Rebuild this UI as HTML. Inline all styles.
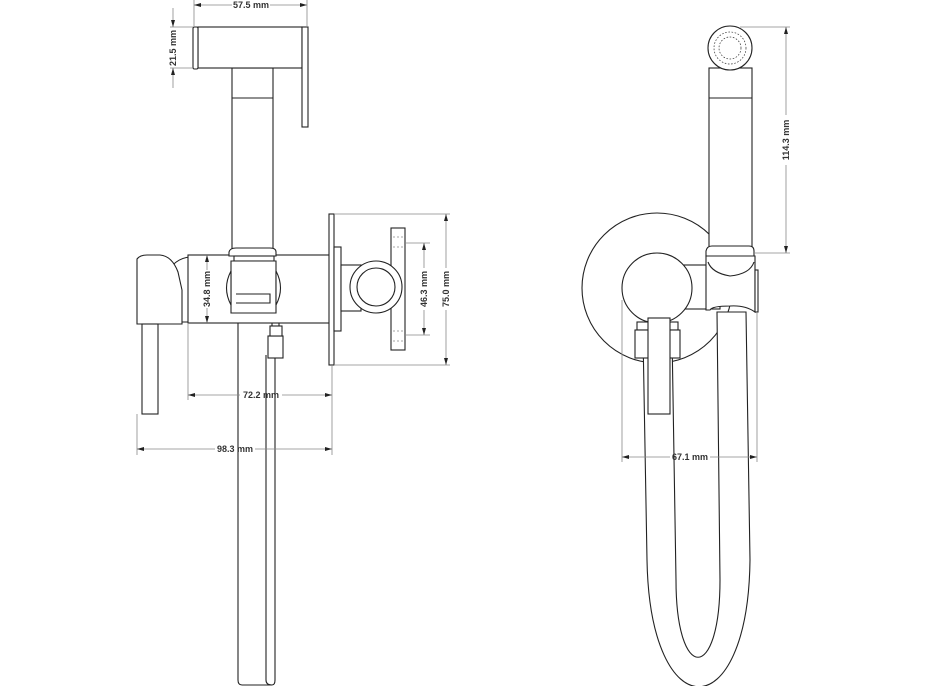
<!DOCTYPE html>
<html><head><meta charset="utf-8"><style>
html,body{margin:0;padding:0;background:#fff;}
svg{display:block;}
text{font-family:"Liberation Sans",sans-serif;font-size:9px;font-weight:bold;fill:#333;}
.l{fill:none;stroke:#222;stroke-width:1.1;}
.w{fill:#fff;stroke:#222;stroke-width:1.1;}
.d{fill:none;stroke:#888;stroke-width:0.8;}
.a{fill:#222;}
</style></head><body>
<svg width="928" height="686" viewBox="0 0 928 686" xmlns="http://www.w3.org/2000/svg">
<!-- LEFT VIEW -->
<path class="l" d="M238,320 L238,680 Q238,685 242,685 L272,685 Q275,685 275,680 L275,355"/>
<path class="l" d="M266,355 L266,680 Q266,685 272,685"/>
<rect class="w" x="268" y="336" width="15" height="22"/>
<rect class="w" x="270" y="326" width="12" height="10"/>
<line class="l" x1="272" y1="322" x2="272" y2="326"/><line class="l" x1="279" y1="322" x2="279" y2="326"/>
<path class="w" d="M165,275 Q175,258 190,257 L190,322 L182,322 Z"/>
<path class="w" d="M137,324 L137,259 Q140,255 147,255 L160,255 Q172,256 178,272 L182,290 L182,324 Z"/>
<rect class="w" x="142" y="324" width="16" height="90"/>
<rect class="w" x="188" y="255" width="142" height="68"/>
<rect class="w" x="232" y="68" width="41" height="182"/>
<line class="l" x1="232" y1="98" x2="273" y2="98"/>
<path class="w" d="M229,256 L229,252 Q230,248 236,248 L270,248 Q276,248 276,252 L276,256 Z"/>
<rect class="w" x="234" y="256" width="40" height="5"/>
<path class="w" d="M231,261 L276,261 L276,313 L231,313 Z"/>
<path class="w" d="M231,271 Q222,288 231,305 Z"/>
<path class="w" d="M276,271 Q285,288 276,305 Z"/>
<path class="l" d="M236,294 L270,294 L270,303 L236,303"/>
<rect class="w" x="198" y="27" width="104" height="41"/>
<rect class="w" x="193" y="27" width="5" height="42" rx="1.5"/>
<rect class="w" x="302" y="27" width="6" height="100"/>
<rect class="w" x="329" y="214" width="5" height="151"/>
<rect class="w" x="334" y="247" width="7" height="84"/>
<rect class="w" x="341" y="265" width="20" height="46"/>
<rect class="w" x="391" y="228" width="14" height="122"/>
<circle class="w" cx="376" cy="287" r="26"/>
<circle class="w" cx="376" cy="287" r="19"/>
<g class="d" stroke-dasharray="2,2"><line x1="393" y1="237" x2="404" y2="237"/><line x1="393" y1="247" x2="404" y2="247"/><line x1="393" y1="331" x2="404" y2="331"/><line x1="393" y1="341" x2="404" y2="341"/></g>
<g class="d">
<line x1="194" y1="0" x2="194" y2="27"/><line x1="307" y1="0" x2="307" y2="27"/>
<line x1="194" y1="5" x2="232" y2="5"/><line x1="270" y1="5" x2="307" y2="5"/>
<line x1="170" y1="27" x2="193" y2="27"/><line x1="170" y1="68" x2="193" y2="68"/>
<line x1="173" y1="8" x2="173" y2="27"/><line x1="173" y1="68" x2="173" y2="88"/>
<line x1="207" y1="255" x2="207" y2="270"/><line x1="207" y1="308" x2="207" y2="323"/>
<line x1="405" y1="243" x2="430" y2="243"/><line x1="405" y1="335" x2="430" y2="335"/>
<line x1="424" y1="243" x2="424" y2="268"/><line x1="424" y1="310" x2="424" y2="335"/>
<line x1="335" y1="214" x2="450" y2="214"/><line x1="335" y1="365" x2="450" y2="365"/>
<line x1="446" y1="214" x2="446" y2="268"/><line x1="446" y1="310" x2="446" y2="365"/>
<line x1="188" y1="323" x2="188" y2="400"/><line x1="332" y1="365" x2="332" y2="455"/>
<line x1="188" y1="395" x2="240" y2="395"/><line x1="282" y1="395" x2="332" y2="395"/>
<line x1="137" y1="414" x2="137" y2="455"/>
<line x1="137" y1="449" x2="215" y2="449"/><line x1="255" y1="449" x2="332" y2="449"/>
</g>
<g class="a">
<path d="M194,5 l7,-2 v4z"/><path d="M307,5 l-7,-2 v4z"/>
<path d="M173,27 l-2,-7 h4z"/><path d="M173,68 l-2,7 h4z"/>
<path d="M207,255 l-2,7 h4z"/><path d="M207,323 l-2,-7 h4z"/>
<path d="M424,243 l-2,7 h4z"/><path d="M424,335 l-2,-7 h4z"/>
<path d="M446,214 l-2,7 h4z"/><path d="M446,365 l-2,-7 h4z"/>
<path d="M188,395 l7,-2 v4z"/><path d="M332,395 l-7,-2 v4z"/>
<path d="M137,449 l7,-2 v4z"/><path d="M332,449 l-7,-2 v4z"/>
</g>
<text x="251" y="8" text-anchor="middle">57.5 mm</text>
<text transform="translate(176,48) rotate(-90)" text-anchor="middle">21.5 mm</text>
<text transform="translate(210,289) rotate(-90)" text-anchor="middle">34.8 mm</text>
<text transform="translate(427,289) rotate(-90)" text-anchor="middle">46.3 mm</text>
<text transform="translate(449,289) rotate(-90)" text-anchor="middle">75.0 mm</text>
<text x="261" y="398" text-anchor="middle">72.2 mm</text>
<text x="235" y="452" text-anchor="middle">98.3 mm</text>

<!-- RIGHT VIEW -->
<circle class="w" cx="657" cy="288" r="75"/>
<path class="w" d="M643,335 L647,560 C650,729 748,729 750,560 L746,312 L717,312 L720,580 C720,683 676,683 676,580 L672,335 Z"/>
<rect class="w" x="680" y="265" width="40" height="44"/>
<path class="w" d="M706,256 L755,256 L755,312 Q745,305 730,306 Q712,306 710,310 L706,310 Z"/>
<path class="w" d="M708,262 Q712,273 730,276 Q750,274 754,262"/>
<rect class="w" x="755" y="270" width="3" height="42"/>
<rect class="w" x="709" y="68" width="43" height="180"/>
<line class="l" x1="709" y1="98" x2="752" y2="98"/>
<path class="w" d="M706,256 L706,251 Q707,246 712,246 L749,246 Q754,246 754,251 L754,256 Z"/>
<circle class="w" cx="730" cy="48" r="22"/>
<g fill="none" stroke="#333" stroke-width="0.7">
<circle cx="730" cy="48" r="16" stroke-dasharray="1.6,1.6"/>
<circle cx="730" cy="48" r="11" stroke-dasharray="1.6,1.6"/>
</g>
<rect class="w" x="637" y="322" width="41" height="8"/>
<rect class="w" x="635" y="330" width="45" height="28"/>
<circle class="w" cx="657" cy="288" r="35"/>
<rect class="w" x="648" y="318" width="22" height="96"/>
<g class="d">
<line x1="740" y1="27" x2="790" y2="27"/><line x1="755" y1="253" x2="790" y2="253"/>
<line x1="786" y1="27" x2="786" y2="115"/><line x1="786" y1="165" x2="786" y2="253"/>
<line x1="622" y1="300" x2="622" y2="462"/><line x1="757" y1="312" x2="757" y2="462"/>
<line x1="622" y1="457" x2="670" y2="457"/><line x1="710" y1="457" x2="757" y2="457"/>
</g>
<g class="a">
<path d="M786,27 l-2,7 h4z"/><path d="M786,253 l-2,-7 h4z"/>
<path d="M622,457 l7,-2 v4z"/><path d="M757,457 l-7,-2 v4z"/>
</g>
<text transform="translate(789,140) rotate(-90)" text-anchor="middle">114.3 mm</text>
<text x="690" y="460" text-anchor="middle">67.1 mm</text>
</svg>
</body></html>
